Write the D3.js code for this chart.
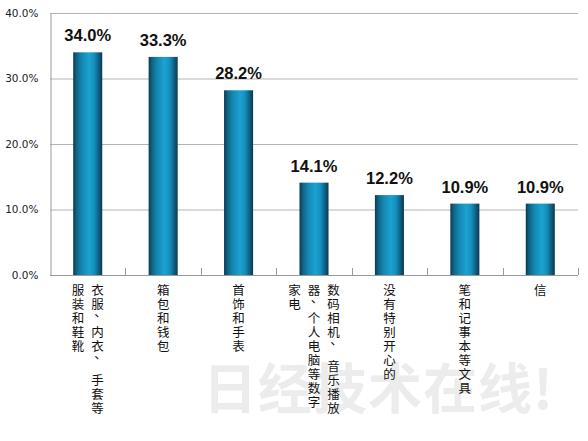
<!DOCTYPE html>
<html><head><meta charset="utf-8">
<script src="https://cdn.jsdelivr.net/npm/d3@7"></script>
<style>
html,body{margin:0;padding:0;background:#fff;}
svg{display:block;}
</style></head>
<body>
<svg id="chart" width="588" height="441"></svg>
<script>
// Data
const categories = ["服装和鞋靴", "箱包和钱包", "首饰和手表", "数字家电", "没有特别开心的", "笔和记事本等文具", "信"];
const labelColumns = [
  ["衣服、内衣、 手套等", "服装和鞋靴"],
  ["箱包和钱包"],
  ["首饰和手表"],
  ["数码相机、 音乐播放", "器、个人电脑等数字", "家电"],
  ["没有特别开心的"],
  ["笔和记事本等文具"],
  ["信"]
];
const values = [34.0, 33.3, 28.2, 14.1, 12.2, 10.9, 10.9];
const yTicks = [0, 10, 20, 30, 40];
const watermark = "日经技术在线!";

const svg = d3.select("#chart");
const mLeft = 50, mRight = 578, mTop = 13, mBottom = 275;

const defs = svg.append("defs");
const grad = defs.append("linearGradient").attr("id", "barGrad").attr("x1", "0%").attr("x2", "100%").attr("y1", "0%").attr("y2", "0%");
[[0, "#0b3a4e"], [0.12, "#0f6585"], [0.3, "#1587b2"], [0.55, "#1ba2d2"], [0.72, "#1590bd"], [0.88, "#0e5f82"], [1, "#0a3850"]]
  .forEach(([o, c]) => grad.append("stop").attr("offset", o).attr("stop-color", c));

// watermark
svg.append("text").attr("x", 203).attr("y", 409)
  .attr("font-family", "Noto Sans CJK SC").attr("font-weight", "bold")
  .attr("font-size", 54).attr("fill", "#ececec").attr("letter-spacing", 1)
  .text(watermark);

const y = d3.scaleLinear().domain([0, 40]).range([mBottom, mTop]);
const x = d3.scaleBand().domain(categories).range([mLeft, mRight]).paddingInner(0.615).paddingOuter(0.3075);
const xo = d3.scaleBand().domain(categories).range([mLeft, mRight]).padding(0);

// gridlines
svg.append("g").selectAll("line").data(yTicks.filter(d => d > 0)).join("line")
  .attr("x1", mLeft).attr("x2", mRight).attr("y1", d => y(d) + 0.5).attr("y2", d => y(d) + 0.5)
  .attr("stroke", "#b4b4b4").attr("stroke-width", 1);

// y axis
const yAxis = svg.append("g").attr("transform", `translate(${mLeft + 0.5},0)`)
  .call(d3.axisLeft(y).tickValues(yTicks).tickFormat(d => d.toFixed(1) + "%").tickSize(0).tickPadding(12));
yAxis.select(".domain").attr("stroke", "#9a9a9a");
yAxis.selectAll("text").attr("font-family", "DejaVu Sans").attr("font-size", 10.5).attr("fill", "#222");

// bars
svg.append("g").selectAll("rect").data(values).join("rect")
  .attr("x", (d, i) => x(categories[i]))
  .attr("width", x.bandwidth())
  .attr("y", d => y(d))
  .attr("height", d => y(0) - y(d))
  .attr("fill", "url(#barGrad)");

// x axis line and ticks
const boundaries = categories.map(c => xo(c)).concat([mRight]);
svg.append("line").attr("x1", mLeft).attr("x2", mRight).attr("y1", mBottom + 0.5).attr("y2", mBottom + 0.5)
  .attr("stroke", "#9a9a9a");
svg.append("g").selectAll("line").data(boundaries.slice(1)).join("line")
  .attr("x1", d => Math.round(d) + 0.5).attr("x2", d => Math.round(d) + 0.5)
  .attr("y1", mBottom - 7).attr("y2", mBottom)
  .attr("stroke", "#9a9a9a");

// value labels
svg.append("g").selectAll("text").data(values).join("text")
  .attr("x", (d, i) => x(categories[i]) + x.bandwidth() / 2)
  .attr("y", d => y(d) - 11)
  .attr("text-anchor", "middle")
  .attr("font-family", "Liberation Sans").attr("font-weight", "bold").attr("font-size", 16.5)
  .attr("fill", "#111")
  .text(d => d.toFixed(1) + "%");

// category labels (vertical, one glyph per cell)
const lg = svg.append("g");
const pitch = 14, spaceH = 6, labelTop = 283, fs = 12.5;
labelColumns.forEach((cols, i) => {
  const cx = x(categories[i]) + x.bandwidth() / 2;
  const k = cols.length;
  cols.forEach((col, j) => {
    const colX = cx + ((k - 1) / 2 - j) * 19.5;
    let yy = labelTop;
    for (const ch of col) {
      if (ch === " ") { yy += spaceH; continue; }
      const isComma = ch === "、";
      lg.append("text")
        .attr("x", isComma ? colX + 3 : colX)
        .attr("y", isComma ? yy + 6 : yy + 12)
        .attr("text-anchor", "middle").attr("font-family", "Noto Sans CJK SC")
        .attr("font-size", fs).attr("fill", "#111").text(ch);
      yy += pitch;
    }
  });
});
</script>
</body></html>
